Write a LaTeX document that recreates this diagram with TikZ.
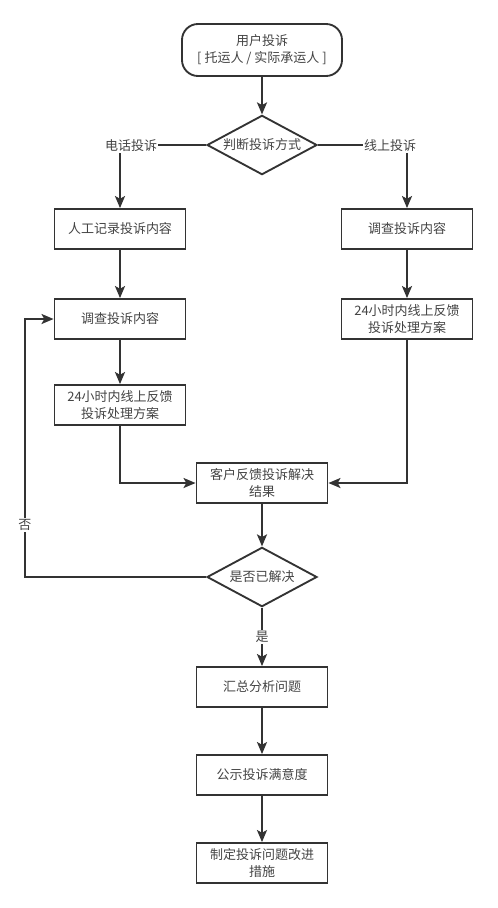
\documentclass[tikz,border=0pt]{standalone}
\usepackage{fontspec}
\newfontfamily\cjk{Noto Sans CJK SC}
\usetikzlibrary{shapes.geometric,arrows.meta}
\definecolor{ln}{HTML}{333333}
\definecolor{tx}{HTML}{444444}

\begin{document}
\begin{tikzpicture}[x=0.75pt,y=-0.75pt,font=\cjk\fontsize{9.75}{12.75}\selectfont,
  every node/.style={text=tx},
  box/.style={draw=ln,line width=1.4pt,fill=white,minimum width=98.25pt,minimum height=30pt,inner sep=0pt,align=center},
  startbox/.style={box,rounded corners=12pt,minimum width=120pt,minimum height=39pt},
  dia/.style={diamond,draw=ln,line width=1.4pt,fill=white,minimum width=82.5pt,minimum height=44.5pt,inner sep=0pt},
  arr/.style={draw=ln,line width=1.4pt,-{Stealth[length=9pt,width=7.5pt,inset=2pt]}},
  lbl/.style={fill=white,inner sep=1pt}]
\useasboundingbox (0,0) rectangle (497,908);
% nodes
\node[startbox] (user) at (262,50) {用户投诉\\{[} 托运人 / 实际承运人 ]};
\node[dia] (way) at (262,145) {\makebox[0pt]{判断投诉方式}};
\node[box] (rec) at (120,229) {人工记录投诉内容};
\node[box] (invl) at (120,319) {调查投诉内容};
\node[box] (fbl) at (120,405) {24小时内线上反馈\\投诉处理方案};
\node[box] (invr) at (407,229) {调查投诉内容};
\node[box] (fbr) at (407,319) {24小时内线上反馈\\投诉处理方案};
\node[box] (res) at (262,483) {客户反馈投诉解决\\结果};
\node[dia] (done) at (262,577) {\makebox[0pt]{是否已解决}};
\node[box] (sum) at (262,687) {汇总分析问题};
\node[box] (pub) at (262,775) {公示投诉满意度};
\node[box] (plan) at (262,863) {制定投诉问题改进\\措施};
\coordinate (loop) at (25,577);
% connectors
\draw[arr] (user) -- (way);
\draw[arr] (way.west) -| (rec.north);
\draw[arr] (way.east) -| (invr.north);
\foreach \a/\b in {rec/invl,invl/fbl,invr/fbr,res/done,done/sum,sum/pub,pub/plan}{\draw[arr] (\a) -- (\b);}
\draw[arr] (fbl.south) |- (res.west);
\draw[arr] (fbr.south) |- (res.east);
\draw[arr] (done.west) -- (loop) |- (invl.west);
% labels
\node[lbl] (tel) at (131,146) {电话投诉};
\node[lbl] (web) at (390,146) {线上投诉};
\node[lbl] (no) at (25,525) {否};
\node[lbl] (yes) at (262,637) {是};
\end{tikzpicture}
\end{document}
